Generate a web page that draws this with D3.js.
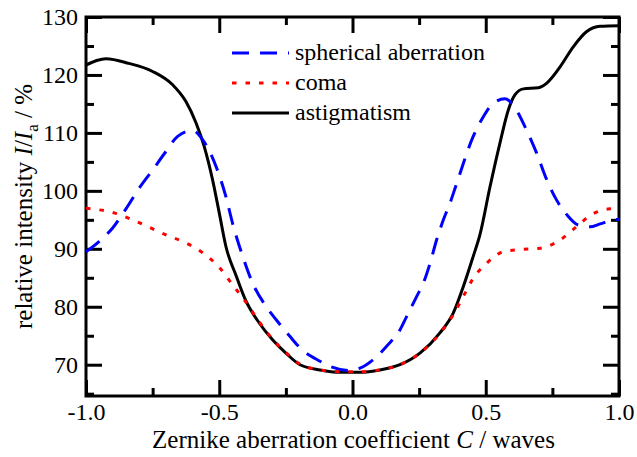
<!DOCTYPE html>
<html>
<head>
<meta charset="utf-8">
<script src="https://cdn.jsdelivr.net/npm/d3@7"></script>
<style>
  body { margin: 0; background: #fff; }
  svg text { font-family: "Liberation Serif", "Times New Roman", serif; fill: #000; }
</style>
</head>
<body>
<div id="chart"></div>
<script>
// Values
const astigX = [-1.0, -0.96, -0.925, -0.84, -0.75, -0.675, -0.625, -0.587, -0.556, -0.525, -0.5, -0.475, -0.437, -0.4, -0.35, -0.3, -0.25, -0.197, -0.122, -0.047, 0.028, 0.103, 0.178, 0.253, 0.328, 0.378, 0.416, 0.453, 0.478, 0.516, 0.553, 0.585, 0.61, 0.641, 0.697, 0.729, 0.779, 0.829, 0.879, 0.929, 1.0];
const astigY = [121.7, 122.5, 122.8, 122.0, 120.6, 118.3, 115.4, 111.7, 107.6, 101.9, 96.2, 90.4, 85.4, 81.0, 77.2, 74.3, 72.0, 70.0, 69.1, 68.7, 68.7, 69.1, 70.0, 72.0, 75.5, 78.9, 83.5, 88.7, 92.4, 100.7, 108.2, 114.0, 116.6, 117.6, 117.8, 118.6, 121.4, 124.9, 127.5, 128.4, 128.5];

const spherX = [-1.0, -0.95, -0.9, -0.85, -0.8, -0.75, -0.7, -0.656, -0.6, -0.562, -0.512, -0.475, -0.45, -0.412, -0.375, -0.325, -0.287, -0.235, -0.197, -0.122, -0.084, -0.009, 0.028, 0.091, 0.128, 0.178, 0.203, 0.241, 0.266, 0.291, 0.316, 0.341, 0.366, 0.391, 0.453, 0.491, 0.528, 0.572, 0.61, 0.653, 0.691, 0.729, 0.766, 0.804, 0.847, 0.891, 0.929, 0.979, 1.0];
const spherY = [89.5, 91.3, 93.6, 96.9, 100.5, 103.6, 106.8, 109.4, 110.4, 108.8, 104.2, 99.0, 94.4, 88.7, 84.1, 80.1, 77.8, 74.9, 72.9, 70.6, 69.7, 69.0, 69.4, 71.4, 73.2, 76.0, 78.3, 81.8, 84.1, 87.5, 91.6, 95.0, 97.9, 101.3, 109.4, 112.8, 115.1, 115.9, 114.3, 110.5, 106.5, 101.9, 98.4, 95.9, 94.1, 93.8, 94.3, 95.0, 95.1];

const comaX = [-1.0, -0.962, -0.894, -0.825, -0.762, -0.7, -0.625, -0.562, -0.5, -0.45, -0.4, -0.35, -0.3, -0.25, -0.197, -0.122, -0.047, 0.028, 0.103, 0.178, 0.253, 0.328, 0.378, 0.416, 0.453, 0.503, 0.566, 0.635, 0.703, 0.772, 0.835, 0.897, 0.966, 1.0];
const comaY = [97.0, 96.8, 96.2, 95.0, 93.7, 92.4, 91.0, 89.3, 86.8, 83.8, 80.8, 77.4, 74.4, 72.1, 70.1, 69.1, 68.8, 68.8, 69.1, 70.0, 72.0, 75.4, 78.6, 81.8, 84.9, 87.5, 89.5, 89.9, 90.1, 91.3, 93.6, 95.9, 96.9, 97.0];

const xMajorTicks = [-1.0, -0.5, 0.0, 0.5, 1.0];
const xMinorTicks = [-0.75, -0.25, 0.25, 0.75];
const yMajorTicks = [70, 80, 90, 100, 110, 120, 130];
const yMinorTicks = [65, 75, 85, 95, 105, 115, 125];

const seriesNames = ["spherical aberration", "coma", "astigmatism"];

const width = 637, height = 457;
const margin = { top: 17, right: 18, bottom: 61, left: 86 };

const svg = d3.select("#chart").append("svg")
  .attr("width", width).attr("height", height);

const x = d3.scaleLinear().domain([-1, 1]).range([margin.left, width - margin.right]);
const y = d3.scaleLinear().domain([64.6, 130]).range([height - margin.bottom, margin.top]);

const tickFont = 24;
const titleFont = 25;

// axes: major ticks with labels, minor ticks without, all pointing inward
function styleAxis(g) {
  g.attr("font-family", null);
  g.selectAll(".domain").remove();
  g.selectAll(".tick line").attr("stroke", "#000").attr("stroke-width", 3);
  g.selectAll(".tick text").style("font-size", tickFont + "px");
}

const bottomY = height - margin.bottom;
const topY = margin.top;
const fmtX = d => d3.format(".1f")(d).replace("\u2212", "-");

svg.append("g").attr("transform", `translate(0,${bottomY})`)
  .call(d3.axisBottom(x).tickValues(xMajorTicks).tickSize(-16).tickPadding(7).tickFormat(fmtX))
  .call(styleAxis);
svg.append("g").attr("transform", `translate(0,${bottomY})`)
  .call(d3.axisBottom(x).tickValues(xMinorTicks).tickSize(-8).tickFormat(""))
  .call(styleAxis);
svg.append("g").attr("transform", `translate(0,${topY})`)
  .call(d3.axisTop(x).tickValues(xMajorTicks).tickSize(-16).tickFormat(""))
  .call(styleAxis);
svg.append("g").attr("transform", `translate(0,${topY})`)
  .call(d3.axisTop(x).tickValues(xMinorTicks).tickSize(-8).tickFormat(""))
  .call(styleAxis);

svg.append("g").attr("transform", `translate(${margin.left},0)`)
  .call(d3.axisLeft(y).tickValues(yMajorTicks).tickSize(-16).tickPadding(8))
  .call(styleAxis);
svg.append("g").attr("transform", `translate(${margin.left},0)`)
  .call(d3.axisLeft(y).tickValues(yMinorTicks).tickSize(-8).tickFormat(""))
  .call(styleAxis);
svg.append("g").attr("transform", `translate(${width - margin.right},0)`)
  .call(d3.axisRight(y).tickValues(yMajorTicks).tickSize(-16).tickFormat(""))
  .call(styleAxis);
svg.append("g").attr("transform", `translate(${width - margin.right},0)`)
  .call(d3.axisRight(y).tickValues(yMinorTicks).tickSize(-8).tickFormat(""))
  .call(styleAxis);

// frame
svg.append("rect")
  .attr("x", margin.left).attr("y", margin.top)
  .attr("width", width - margin.left - margin.right)
  .attr("height", height - margin.top - margin.bottom)
  .attr("fill", "none").attr("stroke", "#000").attr("stroke-width", 3);

// curves
svg.append("clipPath").attr("id", "plot-clip").append("rect")
  .attr("x", margin.left).attr("y", margin.top)
  .attr("width", width - margin.left - margin.right)
  .attr("height", height - margin.top - margin.bottom);

const line = d3.line().x(d => x(d[0])).y(d => y(d[1])).curve(d3.curveMonotoneX);
const plot = svg.append("g").attr("clip-path", "url(#plot-clip)");

const series = [
  { name: seriesNames[0], xs: spherX, ys: spherY, color: "#0000ff", dash: "17,11" },
  { name: seriesNames[1], xs: comaX, ys: comaY, color: "#ff0000", dash: "4.5,9" },
  { name: seriesNames[2], xs: astigX, ys: astigY, color: "#000000", dash: null },
];

// draw black first so dotted/dashed lie on top
[series[2], series[0], series[1]].forEach(s => {
  plot.append("path")
    .datum(d3.zip(s.xs, s.ys))
    .attr("fill", "none")
    .attr("stroke", s.color)
    .attr("stroke-width", 3)
    .attr("stroke-dasharray", s.dash)
    .attr("d", line);
});

// legend
const legend = svg.append("g");
series.forEach((s, i) => {
  const ly = 53 + i * 30;
  legend.append("line")
    .attr("x1", 232).attr("x2", 289).attr("y1", ly).attr("y2", ly)
    .attr("stroke", s.color).attr("stroke-width", 3)
    .attr("stroke-dasharray", s.dash);
  legend.append("text")
    .attr("x", 295).attr("y", ly + 7)
    .style("font-size", "24px")
    .text(s.name);
});

// axis titles
const xt = svg.append("text")
  .attr("x", (margin.left + width - margin.right) / 2 + 1)
  .attr("y", 448)
  .attr("text-anchor", "middle")
  .style("font-size", titleFont + "px");
xt.append("tspan").text("Zernike aberration coefficient ");
xt.append("tspan").style("font-style", "italic").text("C");
xt.append("tspan").text(" / waves");

const yt = svg.append("text")
  .attr("transform", `translate(32,${(margin.top + height - margin.bottom) / 2}) rotate(-90)`)
  .attr("text-anchor", "middle")
  .style("font-size", titleFont + "px");
yt.append("tspan").text("relative intensity ");
yt.append("tspan").style("font-style", "italic").text("I");
yt.append("tspan").text("/");
yt.append("tspan").style("font-style", "italic").text("I");
yt.append("tspan").attr("dy", 6).style("font-size", "17px").text("a");
yt.append("tspan").attr("dy", -6).text(" / %");
</script>
</body>
</html>
